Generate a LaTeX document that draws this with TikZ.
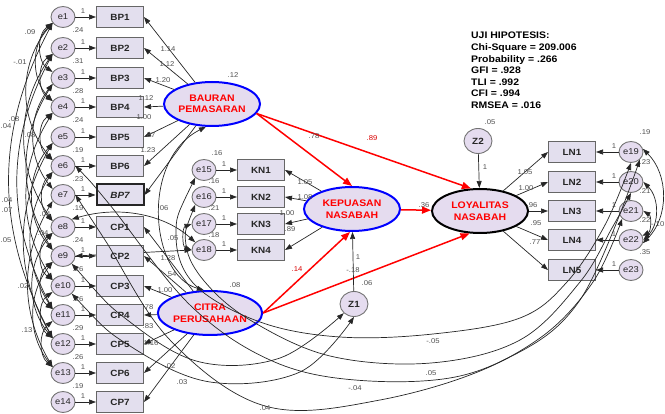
\documentclass[tikz,border=0pt]{standalone}
\usepackage{fontspec}
\setmainfont{Liberation Sans}[FakeStretch=1.1]
\usetikzlibrary{positioning}
\usetikzlibrary{shapes.geometric}
\usetikzlibrary{arrows.meta}

\definecolor{lilac}{HTML}{E5DCEF}
\definecolor{boxlilac}{HTML}{E3DFEE}
\definecolor{coefgray}{HTML}{505050}
\pgfdeclarelayer{back}
\pgfsetlayers{back,main}

\begin{document}
\begin{tikzpicture}[x=1pt, y=-1pt,
    err/.style = {draw=black!55, line width=0.9pt, ellipse, fill=lilac, minimum width=24pt, minimum height=21pt, inner sep=0pt, text=black!85, font=\fontsize{8.5}{9}\selectfont},
    dist/.style = {err, minimum width=28pt, minimum height=25pt, font=\bfseries\fontsize{9}{9}\selectfont},
    obs/.style = {draw=black!60, line width=1pt, fill=boxlilac, minimum width=47pt, minimum height=21pt, inner sep=0pt, text=black!85, font=\bfseries\fontsize{9}{9}\selectfont},
    obsbold/.style = {obs, draw=black!85, line width=2pt, font=\bfseries\itshape\fontsize{9}{9}\selectfont},
    lat/.style = {ellipse, draw=blue, line width=2pt, fill=lilac, minimum width=96pt, minimum height=44pt, inner sep=0pt, text=red, align=center, font=\bfseries\fontsize{9.5}{11.5}\selectfont},
    coef/.style = {text=coefgray, inner sep=0.5pt, font=\fontsize{7}{7}\selectfont},
    redcoef/.style = {coef, text=red!85!black},
    load/.style = {-{Triangle[length=7pt,width=5pt]}, line width=0.7pt, draw=black!85},
    cov/.style = {{Triangle[length=7pt,width=5pt]}-{Triangle[length=7pt,width=5pt]}, line width=0.7pt, draw=black!85},
    effect/.style = {-{Triangle[length=9pt,width=7pt]}, draw=red, line width=1.5pt}
  ]
  \useasboundingbox (0,0) rectangle (665,414);

  \foreach \i/\y/\name/\st/\var in {1/17/BP1/obs/.24, 2/48/BP2/obs/.31, 3/78/BP3/obs/.28, 4/107/BP4/obs/.24, 5/137/BP5/obs/.19, 6/166/BP6/obs/.23, 7/195/BP7/obsbold/.19, 8/227/CP1/obs/.24, 9/256/CP2/obs/.26, 10/286/CP3/obs/.26, 11/315/CP4/obs/.29, 12/344/CP5/obs/.26, 13/373/CP6/obs/.19, 14/402/CP7/obs/{}} {
    \node[err] (e\i) at (63,\y) {e\i};
    \node[\st] (\name) at (120,\y) {\name};
    \draw[load] (e\i) -- (\name);
    \node[coef] at (83,\y-6) {1};
    \node[coef] at (78,\y+13) {\var};
  }

  \node[lat] (bauran) at (212,104) {BAURAN\\PEMASARAN};
  \node[lat] (citra) at (210,313) {CITRA\\PERUSAHAAN};
  \node[lat] (kepuasan) at (352,209) {KEPUASAN\\NASABAH};
  \node[lat, draw=black] (loyalitas) at (480,211) {LOYALITAS\\NASABAH};
  \node[dist] (Z1) at (354,304) {Z1};
  \node[dist] (Z2) at (478,141) {Z2};

  \foreach \i/\y/\name/\var in {15/170/KN1/.16, 16/197/KN2/.21, 17/224/KN3/.18, 18/250/KN4/{}} {
    \node[err] (e\i) at (204,\y) {e\i};
    \node[obs] (\name) at (261,\y) {\name};
    \draw[load] (e\i) -- (\name);
    \node[coef] at (224,\y-6) {1};
    \node[coef] at (214,\y+11) {\var};
  }

  \foreach \i/\y/\name/\var in {19/152/LN1/.19, 20/182/LN2/.23, 21/211/LN3/.21, 22/240/LN4/.22, 23/270/LN5/{}} {
    \node[obs] (\name) at (572,\y) {\name};
    \node[err] (e\i) at (631,\y) {e\i};
    \draw[load] (e\i) -- (\name);
    \node[coef] at (614,\y-6) {1};
    \node[coef] at (645,\y-20) {\var};
  }
  \node[coef] at (645,252) {.35};
  \node[coef, anchor=east] at (665,224) {-.10};

  \node[anchor=north west, align=left, inner sep=0pt, font=\bfseries\fontsize{9.5}{11.6}\selectfont] (stats) at (471,32) {UJI HIPOTESIS:\\Chi-Square = 209.006\\Probability = .266\\GFI = .928\\TLI = .992\\CFI = .994\\RMSEA = .016};

  \foreach \k in {1,...,7} {
    \draw[load] (bauran) -- (BP\k.east);
    \draw[load] (citra) -- (CP\k.east);
  }
  \foreach \k in {1,...,4}
    \draw[load] (kepuasan) -- (KN\k.east);
  \foreach \k in {1,...,5}
    \draw[load] (loyalitas) -- (LN\k.west);

  \foreach \val/\x/\y in {1.14/168/49, 1.12/167/64, 1.20/163/80, 1.12/146/98, 1.00/144/117, .87/150/135, 1.23/148/150,
      1.28/168/258, .54/171/274, 1.00/165/290, .78/148/307, .83/148/326, 1.16/151/343,
      1.05/305/182, 1.08/305/197, 1.00/287/213, .89/290/229,
      1.05/525/172, 1.00/526/188, .96/532/205, .95/536/223, .77/535/242}
    \node[coef] at (\x,\y) {\val};

  \draw[effect] (bauran.-12) -- (kepuasan.north);
  \draw[effect] (bauran.-12) -- (loyalitas.112);
  \draw[effect] (kepuasan) -- (loyalitas);
  \draw[effect] (citra.east) -- (kepuasan.265);
  \draw[effect] (citra.east) -- (loyalitas.245);
  \draw[load] (Z1) -- (kepuasan);
  \draw[load] (Z2) -- (loyalitas);

  \node[coef] at (233,75) {.12};
  \node[coef] at (314,136) {.78};
  \node[redcoef] at (372,138) {.89};
  \node[redcoef] at (297,269) {.14};
  \node[coef] at (424,205) {.36};
  \node[coef] at (358,257) {1};
  \node[coef] at (353,270) {-.18};
  \node[coef] at (367,283) {.06};
  \node[coef] at (490,122) {.05};
  \node[coef] at (485,167) {1};
  \node[coef] at (217,153) {.16};

  \foreach \a/\b/\bend in {1/3/55, 1/4/45, 1/6/40, 1/12/28, 2/4/55, 2/8/35, 2/11/28, 3/7/38, 3/9/32, 4/6/55, 4/10/32, 5/9/40, 5/12/30, 6/8/45, 6/11/33, 7/13/30, 8/10/55, 8/12/40, 9/11/55, 9/13/38, 10/12/55, 11/13/50}
    \draw[cov] (e\a.210) to[bend right=\bend] (e\b.150);

  \begin{pgfonlayer}{back}
    \draw[cov] (e9.east) -- (e18.west);
  \end{pgfonlayer}
  \draw[cov] (e8.north east) .. controls (120,205) and (165,215) .. (e18.north west);
  \draw[cov] (e17.west) to[bend right=70] (e18.west);
  \draw[cov] (bauran.255) .. controls (140,160) and (150,275) .. (citra.105);

  \draw[cov] plot[smooth, tension=0.6] coordinates {(e15.south west) (176,235) (195,285) (260,322) (340,337) (433,334) (520,318) (567,282) (605,225) (e19.south)};
  \draw[cov] plot[smooth, tension=0.6] coordinates {(e16.south west) (186,245) (205,282) (250,320) (330,356) (431,363) (520,340) (580,282) (612,228) (e20.south)};
  \draw[cov] plot[smooth, tension=0.6] coordinates {(e6.east) (110,205) (190,305) (270,360) (355,380) (460,376) (540,338) (593,282) (e21.south west)};
  \draw[cov] plot[smooth, tension=0.6] coordinates {(e7.east) (105,240) (170,340) (265,406) (380,400) (500,362) (580,300) (e19.south east)};
  \draw[cov] plot[smooth, tension=0.6] coordinates {(e9.south east) (130,322) (200,362) (280,358) (Z1.south west)};
  \draw[cov] plot[smooth, tension=0.6] coordinates {(e10.south east) (130,346) (210,382) (300,372) (Z1.south)};

  \draw[cov] (e19.15) to[bend left=45] (e22.345);
  \draw[cov] (e20.east) to[bend left=45] (e22.east);
  \draw[cov] (e21.east) to[bend left=60] (e22.20);

  \foreach \val/\x/\y in {.09/30/32, -.01/20/62, .08/14/119, .04/6/126, .08/30/135, .04/7/200, .07/7/210, .05/6/240, .04/45/214, .04/43/233, .02/23/286, .13/27/330,
      .06/163/208, .05/173/238, .08/235/285,
      -.05/433/341, .05/431/373, -.04/355/388, .04/265/408, .02/170/366, .03/182/382}
    \node[coef] at (\x,\y) {\val};
\end{tikzpicture}
\end{document}
